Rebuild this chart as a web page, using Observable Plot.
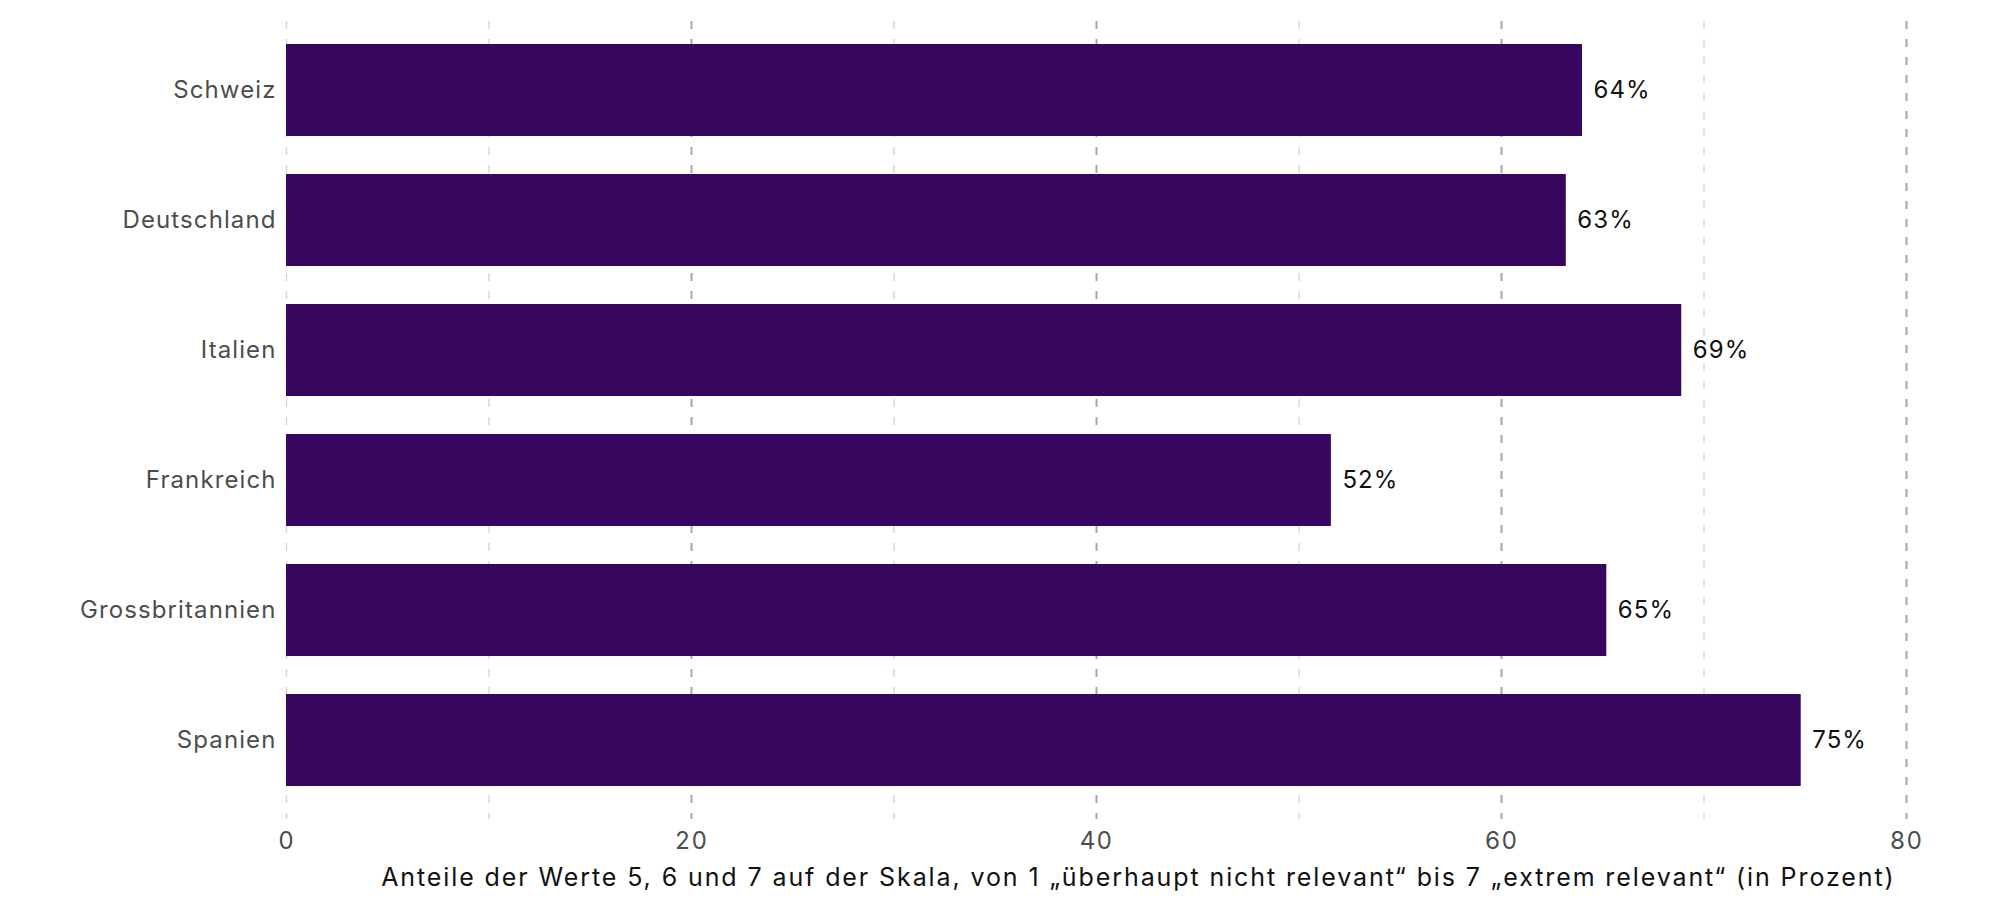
<!DOCTYPE html>
<html><head><meta charset="utf-8">
<script src="https://cdn.jsdelivr.net/npm/d3@7"></script>
<script src="https://cdn.jsdelivr.net/npm/@observablehq/plot@0.6"></script>
<style>body{margin:0;background:#fff} svg text{letter-spacing:1.1px}</style>
</head><body><div id="chart"></div>
<script>
const countries = ["Schweiz","Deutschland","Italien","Frankreich","Grossbritannien","Spanien"];
const values = [64.0, 63.2, 68.9, 51.6, 65.2, 74.8];
const majorTicks = [20,40,60,80];
const minorTicks = [0,10,30,50,70];
const tickLabels = [0,20,40,60,80];
const caption = "Anteile der Werte 5, 6 und 7 auf der Skala, von 1 „überhaupt nicht relevant“ bis 7 „extrem relevant“ (in Prozent)";
const data = countries.map((c,i)=>({country:c, value:values[i]}));
const chart = Plot.plot({
  width:2000, height:905,
  marginLeft:286, marginRight:94, marginTop:21, marginBottom:86,
  style:{fontFamily:"Inter, sans-serif", fontSize:"24px", background:"#fff", color:"#4d4d4d"},
  x:{domain:[0,80], ticks:tickLabels, tickSize:0, tickPadding:12, label:null},
  y:{domain:countries, paddingInner:0.29, paddingOuter:0, insetTop:23, insetBottom:32, label:null, tickSize:0, tickPadding:10},
  marks:[
    Plot.ruleX(minorTicks,{stroke:"#d4d4d4", strokeWidth:1.3, strokeDasharray:"8,10"}),
    Plot.ruleX(majorTicks,{stroke:"#a6a6a6", strokeWidth:2, strokeDasharray:"8,10"}),
    Plot.barX(data,{x:"value", y:"country", fill:"#37075f"}),
    Plot.text(data,{x:"value", y:"country", text:d=>Math.round(d.value)+"%", dx:11, textAnchor:"start", fill:"#111", fontSize:24}),
    Plot.text([caption],{frameAnchor:"bottom-right", dx:-11, dy:58, lineAnchor:"middle", textAnchor:"end", fill:"#111", fontSize:25})
  ]
});
d3.select(chart).selectAll("text").filter(function(){ return this.textContent === caption; }).style("letter-spacing","1.9px");
document.getElementById("chart").append(chart);
</script>
</body></html>
